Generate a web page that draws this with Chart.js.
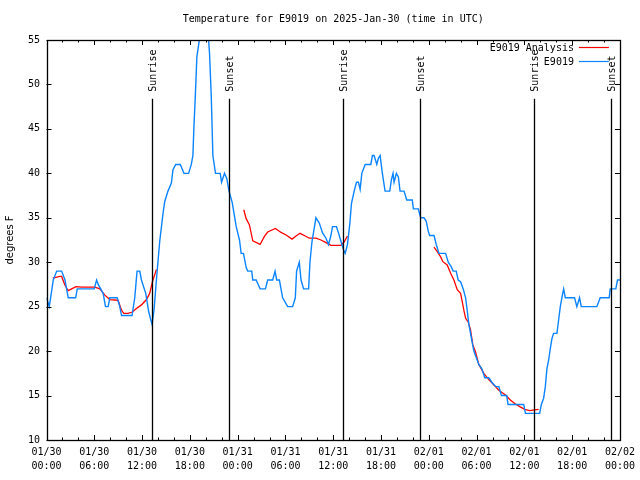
<!DOCTYPE html>
<html><head><meta charset="utf-8">
<script src="https://cdn.jsdelivr.net/npm/chart.js@4.4.1/dist/chart.umd.min.js"></script>
<style>html,body{margin:0;padding:0;background:#fff}canvas{display:block}</style>
</head><body>
<canvas id="c" width="640" height="480"></canvas>
<script>
const titleText = 'Temperature for E9019 on 2025-Jan-30 (time in UTC)';
const yAxisLabel = 'degrees F';
const seriesNames = ['E9019 Analysis', 'E9019'];

// hours since 2025-01-30 00:00 UTC
const obsHours = [0.0,0.35,0.85,1.28,1.90,2.32,2.73,3.66,3.86,5.99,6.29,6.49,7.11,7.41,7.74,7.95,8.87,9.20,9.42,10.74,
11.08,11.37,11.71,11.92,12.46,12.84,13.25,13.50,13.80,14.21,14.63,14.84,15.25,15.68,15.88,16.22,16.80,17.26,17.84,18.18,
18.38,18.51,18.68,18.88,19.22,19.60,19.97,20.35,20.47,20.69,20.89,21.22,21.81,21.98,22.35,22.64,22.89,23.32,23.82,24.23,
24.44,24.73,25.07,25.27,25.77,25.90,26.32,26.82,27.49,27.77,28.40,28.70,28.90,29.24,29.65,30.28,30.90,31.24,31.40,31.74,
31.96,32.28,32.91,33.08,33.33,33.83,34.25,34.66,35.09,35.41,35.71,35.91,36.41,36.66,37.09,37.29,37.50,37.79,38.09,38.29,
38.63,38.92,39.17,39.38,39.59,40.01,40.72,40.92,41.13,41.47,41.67,41.89,42.17,42.51,43.10,43.30,43.51,43.64,43.93,44.18,
44.39,44.89,45.23,45.93,46.06,46.68,46.98,47.40,47.68,47.93,48.11,48.65,48.94,49.27,50.11,50.44,50.81,51.06,51.44,51.69,
51.99,52.32,52.62,52.82,53.03,53.24,53.44,53.66,54.07,54.28,54.66,55.03,55.53,55.91,56.41,56.79,57.12,57.78,57.95,59.92,
60.13,61.92,62.13,62.42,62.63,62.83,63.05,63.26,63.46,63.67,64.09,64.30,64.51,64.71,64.93,65.14,66.30,66.59,66.93,67.14,
69.10,69.52,70.65,70.78,71.48,71.69,72.0];
const obsTemps = [26,25,28,29,29,28,26,26,27,27,28,27.5,26.5,25,25,26,26,25,24,24,
26,29,29,28,26.5,24.4,23,24.6,28,32.3,35.5,36.8,38,38.9,40.4,41,41,40,40,41,
42,45.2,48.6,53.1,55.2,57,57,55,53.5,48.6,42,40,40,39,40,39.4,38.1,36.7,34,32.5,
31,31,29.4,29,29,28,28,27,27,28,28,29,28,28,26,25,25,26,29,30,
28,27,27,30,32.3,35,34.4,33.3,32.7,32,33,34,34,33.3,32,31.4,31,32,34.4,36.6,
38,39,39,38.2,40,41,41,42,42,41,41.7,42,40,38,38,39.25,40,39,40,39.6,
38,38,37,37,36,36,35,35,34.6,33.5,33,33,32,31,31,30,29.5,29,29,28,
27.8,27,26,24.6,23,22,21,20,19,18.5,18,17,17,16.5,16,16,15,15,14,14,
13,13,14,14.7,16,18,19,20.3,21.4,22,22,23.5,25,26,27,26,26,25,26,25,
25,26,26,27,27,28,28];

const anaHours = [0.78,1.69,1.90,2.32,2.73,3.16,3.69,4.41,6.07,6.70,7.33,7.95,8.58,8.99,9.42,9.70,10.24,10.79,11.29,11.92,
12.55,12.96,13.30,13.59,13.80,19.0,
24.77,25.07,25.48,25.90,26.82,27.36,27.77,28.74,29.45,30.08,30.83,31.33,31.83,32.49,33.00,33.83,34.46,35.09,35.71,36.96,
37.38,37.79,43.0,
48.65,49.06,49.49,49.77,50.31,50.74,51.15,51.57,51.99,52.19,52.40,52.62,52.94,53.24,53.53,53.87,54.07,54.28,54.91,55.53,
56.16,56.79,57.63,58.24,58.79,59.42,60.04,60.67,61.29,61.79];
const anaTemps = [28.2,28.4,28.4,27.4,26.8,27.0,27.25,27.2,27.2,27.0,26.3,25.8,25.75,25.7,24.6,24.25,24.25,24.4,24.8,25.2,
25.8,26.5,27.8,28.6,29.2,null,
35.9,34.9,34.2,32.4,32.0,32.9,33.4,33.8,33.35,33.06,32.6,32.95,33.25,32.95,32.7,32.7,32.5,32.2,31.9,31.9,
32.3,32.95,null,
31.7,31.2,30.6,30.06,29.7,28.75,28.0,26.9,26.5,25.6,24.6,23.7,23.3,22.4,20.7,19.9,19.2,18.5,17.5,16.8,
16.2,15.6,15.06,14.5,14.1,13.75,13.45,13.3,13.4,13.45];

const xTickHours = [0,6,12,18,24,30,36,42,48,54,60,66,72];
const xTickDates = ['01/30','01/30','01/30','01/30','01/31','01/31','01/31','01/31','02/01','02/01','02/01','02/01','02/02'];
const xTickTimes = ['00:00','06:00','12:00','18:00','00:00','06:00','12:00','18:00','00:00','06:00','12:00','18:00','00:00'];
const xMinorHours = [2,4,8,10,14,16,20,22,26,28,32,34,38,40,44,46,50,52,56,58,62,64,68,70];
const yTickValues = [10,15,20,25,30,35,40,45,50,55];

const sunriseHours = [13.25, 37.17, 61.2];
const sunsetHours = [22.9, 46.93, 70.85];
const sunLineTop = 48.4;

const MONO = '"DejaVu Sans Mono", "Liberation Mono", monospace';
const RED = '#ff0000';
const BLUE = '#0a84ff';

const gnuplotDecor = {
  id: 'gnuplotDecor',
  beforeDraw(chart) {
    const ctx = chart.ctx;
    ctx.save();
    ctx.fillStyle = '#fff';
    ctx.fillRect(0, 0, chart.width, chart.height);
    ctx.restore();
  },
  afterDatasetsDraw(chart) {
    const ctx = chart.ctx;
    const a = chart.chartArea;
    const xs = chart.scales.x, ys = chart.scales.y;
    ctx.save();
    ctx.strokeStyle = '#000';
    ctx.lineWidth = 1;
    // ticks
    ctx.beginPath();
    xTickHours.forEach(h => {
      const x = Math.round(xs.getPixelForValue(h)) + 0.5;
      ctx.moveTo(x, a.bottom); ctx.lineTo(x, a.bottom - 5);
      ctx.moveTo(x, a.top); ctx.lineTo(x, a.top + 5);
    });
    xMinorHours.forEach(h => {
      const x = Math.round(xs.getPixelForValue(h)) + 0.5;
      ctx.moveTo(x, a.bottom); ctx.lineTo(x, a.bottom - 2.5);
      ctx.moveTo(x, a.top); ctx.lineTo(x, a.top + 2.5);
    });
    yTickValues.forEach(v => {
      const y = Math.round(ys.getPixelForValue(v)) + 0.5;
      ctx.moveTo(a.left, y); ctx.lineTo(a.left + 5, y);
      ctx.moveTo(a.right, y); ctx.lineTo(a.right - 5, y);
    });
    ctx.stroke();
    // sunrise/sunset lines
    const topY = ys.getPixelForValue(sunLineTop);
    const drawSun = (h, label) => {
      const x = Math.round(xs.getPixelForValue(h)) + 0.5;
      ctx.lineWidth = 1.3;
      ctx.beginPath();
      ctx.moveTo(x, topY); ctx.lineTo(x, a.bottom);
      ctx.stroke();
      ctx.save();
      ctx.translate(x + 1, topY - 7);
      ctx.rotate(-Math.PI / 2);
      ctx.fillStyle = '#000';
      ctx.font = '10px ' + MONO;
      ctx.textAlign = 'left';
      ctx.textBaseline = 'middle';
      ctx.fillText(label, 0, 0);
      ctx.restore();
    };
    sunriseHours.forEach(h => drawSun(h, 'Sunrise'));
    sunsetHours.forEach(h => drawSun(h, 'Sunset'));
    // border
    ctx.lineWidth = 1.3;
    ctx.strokeRect(Math.round(a.left) + 0.5, Math.round(a.top) + 0.5,
                   Math.round(a.right - a.left), Math.round(a.bottom - a.top));
    // title
    ctx.fillStyle = '#000';
    ctx.font = '10px ' + MONO;
    ctx.textAlign = 'center';
    ctx.textBaseline = 'middle';
    ctx.fillText(titleText, (a.left + a.right) / 2, 19);
    // legend
    const colors = [RED, BLUE];
    ctx.lineWidth = 1.2;
    seriesNames.forEach((name, i) => {
      const y = 48 + i * 14;
      ctx.fillStyle = '#000';
      ctx.textAlign = 'right';
      ctx.fillText(name, a.right - 46, y);
      ctx.strokeStyle = colors[i];
      ctx.beginPath();
      ctx.moveTo(a.right - 41, y - 0.5);
      ctx.lineTo(a.right - 11, y - 0.5);
      ctx.stroke();
    });
    ctx.restore();
  }
};

new Chart(document.getElementById('c'), {
  type: 'line',
  data: {
    datasets: [
      {
        label: seriesNames[1],
        data: obsHours.map((h, i) => ({ x: h, y: obsTemps[i] })),
        borderColor: BLUE, borderWidth: 1.4, pointRadius: 0, tension: 0, fill: false
      },
      {
        label: seriesNames[0],
        data: anaHours.map((h, i) => ({ x: h, y: anaTemps[i] })),
        borderColor: RED, borderWidth: 1.3, pointRadius: 0, tension: 0, fill: false, spanGaps: false
      }
    ]
  },
  options: {
    responsive: false,
    animation: false,
    devicePixelRatio: 1,
    layout: { padding: { top: 40, right: 18.5, left: 0, bottom: 0 } },
    plugins: { legend: { display: false }, title: { display: false }, tooltip: { enabled: false } },
    scales: {
      x: {
        type: 'linear', min: 0, max: 72,
        afterBuildTicks: s => { s.ticks = xTickHours.map(v => ({ value: v })); },
        afterFit: s => { s.height = 40; },
        ticks: {
          autoSkip: false, maxRotation: 0, minRotation: 0, padding: 5, color: '#000',
          font: { family: MONO, size: 10, lineHeight: 1.4 },
          callback: v => { const i = xTickHours.indexOf(v); return i < 0 ? '' : [xTickDates[i], xTickTimes[i]]; }
        },
        grid: { drawOnChartArea: false, drawTicks: false },
        border: { display: false }
      },
      y: {
        min: 10, max: 55,
        afterBuildTicks: s => { s.ticks = yTickValues.map(v => ({ value: v })); },
        afterFit: s => { s.width = 46.5; },
        ticks: { padding: 6.5, color: '#000', font: { family: MONO, size: 10 } },
        grid: { drawOnChartArea: false, drawTicks: false },
        border: { display: false },
        title: { display: true, text: yAxisLabel, color: '#000', padding: { top: 4, bottom: 0 },
                 font: { family: '"DejaVu Sans", sans-serif', size: 10, lineHeight: 1.2 } }
      }
    }
  },
  plugins: [gnuplotDecor]
});
</script>
</body></html>
